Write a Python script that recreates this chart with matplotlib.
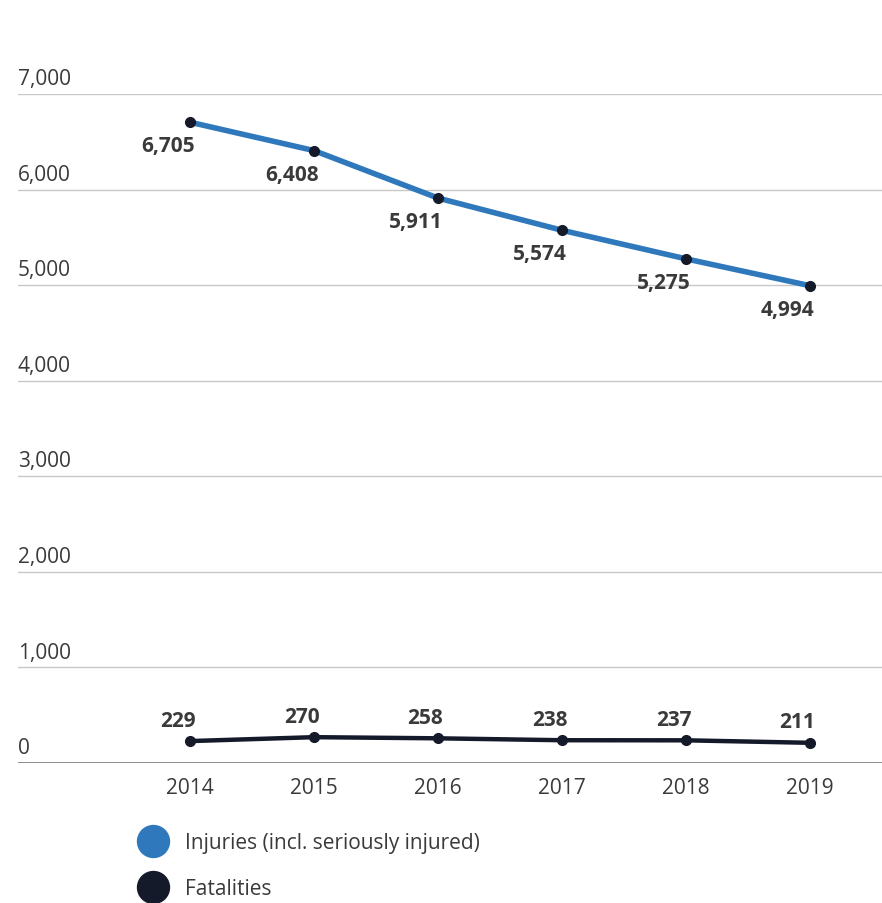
import matplotlib
matplotlib.use('Agg')
import matplotlib.pyplot as plt
import matplotlib.transforms as mtransforms
from matplotlib.lines import Line2D

plt.rcParams['font.family'] = ['Open Sans', 'DejaVu Sans']

# Data
years = ['2014', '2015', '2016', '2017', '2018', '2019']
injuries = [6705, 6408, 5911, 5574, 5275, 4994]
fatalities = [229, 270, 258, 238, 237, 211]
yticks = [0, 1000, 2000, 3000, 4000, 5000, 6000, 7000]
series_names = ['Injuries (incl. seriously injured)', 'Fatalities']

blue = '#2e78bb'
navy = '#141a2a'
grid_col = '#c8c8c8'
text_col = '#3a3a3a'
fs = 15

fig = plt.figure(figsize=(8.82, 9.04), dpi=100)
ax = fig.add_axes([0.0204, 0.1549, 0.9796, 0.7400])

x = list(range(len(years)))
ax.plot(x, injuries, color=blue, lw=4.0, zorder=3, solid_capstyle='round')
ax.plot(x, injuries, 'o', color=navy, ms=7, zorder=4)
ax.plot(x, fatalities, color=navy, lw=3.2, zorder=3, solid_capstyle='round')
ax.plot(x, fatalities, 'o', color=navy, ms=7, zorder=4)

for xi, v in zip(x, injuries):
    ax.annotate(f'{v:,}', (xi, v), xytext=(-16, -17), textcoords='offset points',
                ha='center', va='center', fontsize=fs, fontweight='bold', color=text_col)
for xi, v in zip(x, fatalities):
    ax.annotate(f'{v:,}', (xi, v), xytext=(-9, 15), textcoords='offset points',
                ha='center', va='center', fontsize=fs, fontweight='bold', color=text_col)

ax.set_xlim(-1.387, 5.58)
ax.set_ylim(0, 7000)

# gridlines and y labels above them
trans = mtransforms.blended_transform_factory(ax.transAxes, ax.transData)
for t in yticks:
    if t == 0:
        ax.axhline(t, color='#7a7a7a', lw=1.2, zorder=2)
    else:
        ax.axhline(t, color=grid_col, lw=1.0, zorder=1)
    ax.annotate(f'{t:,}', (0, t), xycoords=trans, xytext=(0, 11), textcoords='offset points',
                ha='left', va='center', fontsize=fs, color=text_col)

ax.set_xticks(x)
ax.set_xticklabels(years, fontsize=fs, color=text_col)
ax.tick_params(axis='x', length=0, pad=10)
ax.set_yticks([])
for s in ax.spines.values():
    s.set_visible(False)

handles = [Line2D([], [], marker='o', ls='none', ms=23, color=blue),
           Line2D([], [], marker='o', ls='none', ms=23, color=navy)]
leg = fig.legend(handles, series_names, loc='upper left', bbox_to_anchor=(0.15, 0.078),
                 frameon=False, fontsize=fs, labelspacing=1.2, handletextpad=0.55,
                 borderaxespad=0, borderpad=0)
for t in leg.get_texts():
    t.set_color(text_col)

fig.savefig('out.png', dpi=100)
